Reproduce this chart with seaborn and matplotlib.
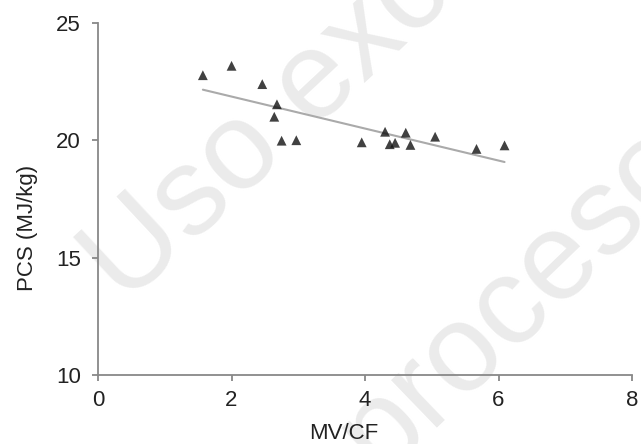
import matplotlib
matplotlib.use("Agg")
import matplotlib.pyplot as plt
import seaborn as sns
import pandas as pd

mv_cf = [1.57, 2.00, 2.46, 2.68, 2.64, 2.75, 2.97, 3.95, 4.30, 4.37, 4.45, 4.61, 4.68, 5.05, 5.67, 6.09]
pcs = [22.78, 23.18, 22.40, 21.54, 21.01, 19.99, 20.01, 19.92, 20.37, 19.84, 19.90, 20.33, 19.81, 20.16, 19.64, 19.79]
x_ticks = [0, 2, 4, 6, 8]
y_ticks = [10, 15, 20, 25]

sns.set_style("white")
plt.rcParams['font.family'] = ['Liberation Sans', 'DejaVu Sans']

df = pd.DataFrame({"MV/CF": mv_cf, "PCS": pcs})

fig = plt.figure(figsize=(6.41, 4.44), dpi=100)
ax = fig.add_axes([0.153, 0.155, 0.833, 0.793])

# watermark (behind the plot)
wm = dict(fontsize=90, color="#ebebeb", rotation_mode="anchor",
          ha="left", va="baseline", zorder=-1)
fig.text(0.196, 0.310, "Uso exclusivo", rotation=43, **wm)
fig.text(0.593, -0.071, "proceso", rotation=44, **wm)
ax.set_facecolor("none")

sns.regplot(data=df, x="MV/CF", y="PCS", ax=ax, ci=None, marker="^",
            scatter_kws=dict(color="#111111", s=50, edgecolors="none", zorder=3),
            line_kws=dict(color="#aaaaaa", lw=1.5, zorder=2))

ax.set_xlim(0, 8)
ax.set_ylim(10, 25)
ax.set_xticks(x_ticks)
ax.set_yticks(y_ticks)
ax.set_xlabel("MV/CF", fontsize=16, color="#222222")
ax.set_ylabel("PCS (MJ/kg)", fontsize=16, color="#222222")
ax.xaxis.set_label_coords(0.461, -0.137)
ax.yaxis.set_label_coords(-0.112, 0.418)
for s in ["top", "right"]:
    ax.spines[s].set_visible(False)
for s in ["left", "bottom"]:
    ax.spines[s].set_color("#888888")
    ax.spines[s].set_linewidth(1.3)
ax.tick_params(axis="both", direction="out", length=4.5, width=1.3, color="#888888",
               labelsize=16, labelcolor="#222222", left=True, bottom=True)
ax.tick_params(axis="y", pad=8)
ax.tick_params(axis="x", pad=6)

fig.savefig("out.png", dpi=100)
